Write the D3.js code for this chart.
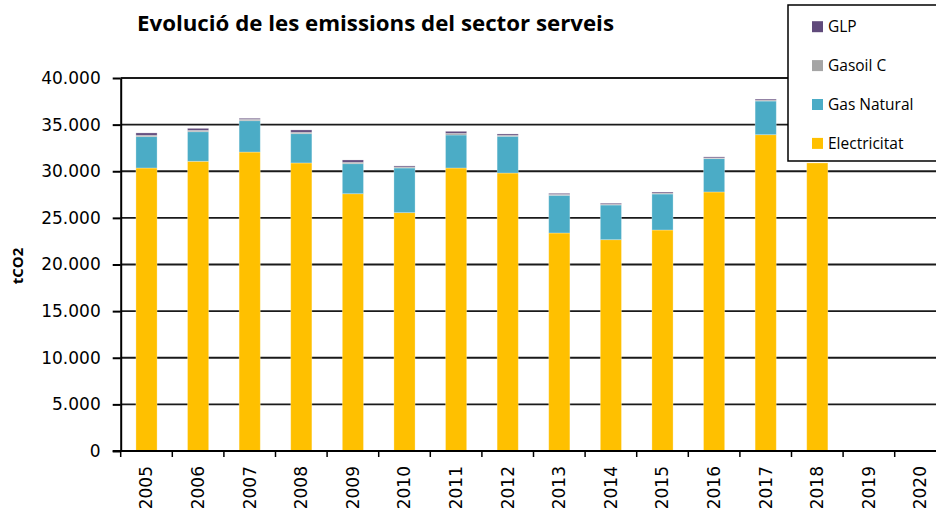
<!DOCTYPE html>
<html>
<head>
<meta charset="utf-8">
<script src="https://cdn.jsdelivr.net/npm/d3@7"></script>
<style>
  body { margin: 0; background: #fff; }
  svg { display: block; }
</style>
</head>
<body>
<div id="chart"></div>
<script>
// Data (tCO2)
var years = ["2005", "2006", "2007", "2008", "2009", "2010", "2011", "2012",
             "2013", "2014", "2015", "2016", "2017", "2018", "2019", "2020"];
var electricitat = [30350, 31070, 32060, 30890, 27590, 25560, 30350, 29810,
                    23380, 22660, 23700, 27780, 33920, 30890, 0, 0];
var gasNatural = [3360, 3170, 3360, 3140, 3220, 4790, 3540, 3940,
                  4040, 3720, 3860, 3570, 3610, 0, 0, 0];
var gasoilC = [150, 150, 150, 150, 150, 110, 180, 110,
               100, 90, 100, 80, 100, 0, 0, 0];
var glp = [250, 210, 110, 250, 250, 110, 210, 140,
           110, 100, 110, 110, 110, 0, 0, 0];
var yTicks = [0, 5000, 10000, 15000, 20000, 25000, 30000, 35000, 40000];

var seriesNames = ["Electricitat", "Gas Natural", "Gasoil C", "GLP"];
var colors = {"Electricitat": "#FFC000", "Gas Natural": "#4BACC6", "Gasoil C": "#A5A5A5", "GLP": "#604A7B"};

var svgWidth = 936, svgHeight = 509;
var x0 = 120.7, xEnd = 946.3, yTop = 78, yBottom = 451;

var svg = d3.select("#chart").append("svg")
    .attr("width", svgWidth)
    .attr("height", svgHeight);

// Build table for stacking
var table = years.map(function(y, i) {
    return {year: y, "Electricitat": electricitat[i], "Gas Natural": gasNatural[i],
            "Gasoil C": gasoilC[i], "GLP": glp[i]};
});
var stacked = d3.stack().keys(seriesNames)(table);

var xScale = d3.scaleBand().domain(years).range([x0, xEnd]).padding(0);
var yScale = d3.scaleLinear().domain([0, 40000]).range([yBottom, yTop]);

var locale = d3.formatLocale({decimal: ",", thousands: ".", grouping: [3], currency: ["", ""]});
var fmt = locale.format(",");

// Gridlines
svg.append("g").selectAll("line")
    .data(yTicks.filter(function(d) { return d > 0; }))
    .enter().append("line")
    .attr("x1", x0).attr("x2", svgWidth)
    .attr("y1", function(d) { return yScale(d); })
    .attr("y2", function(d) { return yScale(d); })
    .attr("stroke", "#1a1a1a")
    .attr("stroke-width", 1.8);

// Bars
var barW = xScale.bandwidth() * 0.41;
svg.append("g").selectAll("g")
    .data(stacked)
    .enter().append("g")
    .attr("fill", function(d) { return colors[d.key]; })
    .selectAll("rect")
    .data(function(d) { return d; })
    .enter().append("rect")
    .attr("x", function(d) { return xScale(d.data.year) + (xScale.bandwidth() - barW) / 2; })
    .attr("y", function(d) { return yScale(d[1]); })
    .attr("width", barW)
    .attr("height", function(d) { return Math.max(0, yScale(d[0]) - yScale(d[1])); })
    .attr("stroke", "#fff")
    .attr("stroke-opacity", 0.35)
    .attr("stroke-width", 0.8);

// Y axis
var leftAxis = d3.axisLeft(yScale).tickValues(yTicks).tickFormat(fmt).tickSize(8).tickSizeOuter(0).tickPadding(12);
var gy = svg.append("g")
    .attr("transform", "translate(" + x0 + ",0)")
    .call(leftAxis);
gy.selectAll("path, line").attr("stroke", "#000").attr("stroke-width", 2);
gy.selectAll("text")
    .style("font-family", "DejaVu Sans")
    .style("font-size", "17px")
    .attr("fill", "#000");

// X axis line and ticks at band edges
svg.append("line")
    .attr("x1", x0 - 8).attr("x2", svgWidth)
    .attr("y1", yBottom).attr("y2", yBottom)
    .attr("stroke", "#000").attr("stroke-width", 2);

svg.append("g").selectAll("line")
    .data(years)
    .enter().append("line")
    .attr("x1", function(d) { return xScale(d); })
    .attr("x2", function(d) { return xScale(d); })
    .attr("y1", yBottom)
    .attr("y2", yBottom + 6)
    .attr("stroke", "#000").attr("stroke-width", 1.5);

svg.append("g").selectAll("text")
    .data(years)
    .enter().append("text")
    .attr("transform", function(d) {
        return "translate(" + (xScale(d) + xScale.bandwidth() / 2) + "," + (yBottom + 15) + ") rotate(-90)";
    })
    .attr("dy", "0.35em")
    .style("text-anchor", "end")
    .style("font-family", "DejaVu Sans")
    .style("font-size", "17px")
    .text(function(d) { return d; });

// Title
svg.append("text")
    .attr("x", 137)
    .attr("y", 31)
    .attr("textLength", 477)
    .attr("lengthAdjust", "spacingAndGlyphs")
    .style("font-family", "Open Sans")
    .style("font-weight", "bold")
    .style("font-size", "21px")
    .text("Evolució de les emissions del sector serveis");

// Y axis title
svg.append("text")
    .attr("transform", "translate(18,266) rotate(-90)")
    .attr("dy", "0.35em")
    .style("text-anchor", "middle")
    .style("font-family", "Open Sans")
    .style("font-weight", "bold")
    .style("font-size", "15px")
    .text("tCO2");

// Legend
var legend = svg.append("g");
legend.append("rect")
    .attr("x", 788).attr("y", 5)
    .attr("width", 160).attr("height", 156)
    .attr("fill", "#fff")
    .attr("stroke", "#000")
    .attr("stroke-width", 1.5);

var legendOrder = ["GLP", "Gasoil C", "Gas Natural", "Electricitat"];
var item = legend.selectAll("g.item")
    .data(legendOrder)
    .enter().append("g")
    .attr("class", "item")
    .attr("transform", function(d, i) { return "translate(812," + (26.7 + i * 38.9) + ")"; });
item.append("rect")
    .attr("x", 0).attr("y", -5.5)
    .attr("width", 11).attr("height", 11)
    .attr("fill", function(d) { return colors[d]; });
item.append("text")
    .attr("x", 16)
    .attr("y", 0)
    .attr("dy", "0.35em")
    .style("font-family", "Open Sans")
    .style("font-size", "15.5px")
    .text(function(d) { return d; });
</script>
</body>
</html>
